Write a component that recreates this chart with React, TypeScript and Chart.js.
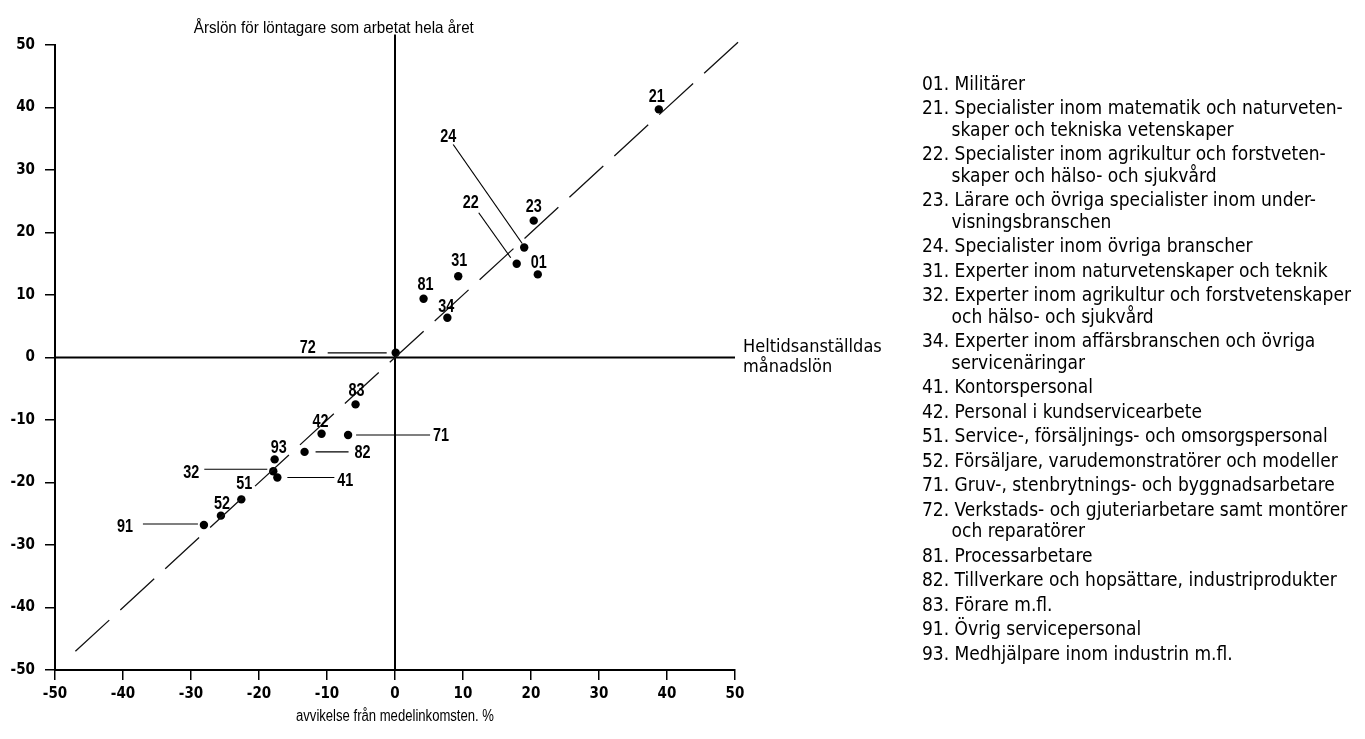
import React, { useEffect, useRef } from "react";
import { Chart, registerables } from "chart.js";

Chart.register(...registerables);

// ---- data ----
const codes = ["01", "21", "22", "23", "24", "31", "32", "34", "41", "42", "51", "52", "71", "72", "81", "82", "83", "91", "93"];
// x: deviation of full-time employees' monthly wage from the average, %
const monthlyDev = [21.0, 38.8, 17.9, 20.4, 19.0, 9.3, -17.9, 7.7, -17.3, -10.8, -22.6, -25.6, -6.9, 0.1, 4.2, -13.3, -5.8, -28.1, -17.7];
// y: deviation of annual earnings (worked whole year) from the average, %
const annualDev = [13.3, 39.7, 15.0, 21.9, 17.6, 13.0, -18.2, 6.35, -19.2, -12.2, -22.7, -25.3, -12.4, 0.75, 9.4, -15.1, -7.5, -26.8, -16.3];

const axisMin = -50;
const axisMax = 50;
const axisStep = 10;
const diagonalEnds = [-47, 51];

const yTitle = "Årslön för löntagare som arbetat hela året";
const xTitle = "avvikelse från medelinkomsten. %";
const rightTitle = ["Heltidsanställdas", "månadslön"];

const legendEntries: string[][] = [
  ["01. Militärer"],
  ["21. Specialister inom matematik och naturveten-", "skaper och tekniska vetenskaper"],
  ["22. Specialister inom agrikultur och forstveten-", "skaper och hälso- och sjukvård"],
  ["23. Lärare och övriga specialister inom under-", "visningsbranschen"],
  ["24. Specialister inom övriga branscher"],
  ["31. Experter inom naturvetenskaper och teknik"],
  ["32. Experter inom agrikultur och forstvetenskaper", "och hälso- och sjukvård"],
  ["34. Experter inom affärsbranschen och övriga", "servicenäringar"],
  ["41. Kontorspersonal"],
  ["42. Personal i kundservicearbete"],
  ["51. Service-, försäljnings- och omsorgspersonal"],
  ["52. Försäljare, varudemonstratörer och modeller"],
  ["71. Gruv-, stenbrytnings- och byggnadsarbetare"],
  ["72. Verkstads- och gjuteriarbetare samt montörer", "och reparatörer"],
  ["81. Processarbetare"],
  ["82. Tillverkare och hopsättare, industriprodukter"],
  ["83. Förare m.fl."],
  ["91. Övrig servicepersonal"],
  ["93. Medhjälpare inom industrin m.fl."],
];

// ---- label layout (pixel offsets from the point) ----
type Place = { dx: number; dy: number; lead?: [number, number, number, number] };
const labelPlace: Record<string, Place> = {
  "01": { dx: 1, dy: -12 },
  "21": { dx: -2, dy: -13 },
  "22": { dx: -46, dy: -62, lead: [-38, -51, -6, -6] },
  "23": { dx: 0, dy: -15 },
  "24": { dx: -76, dy: -111, lead: [-71, -103, -2, -4] },
  "31": { dx: 1, dy: -16 },
  "32": { dx: -82, dy: 1, lead: [-69, -2, -6, -2] },
  "34": { dx: -1, dy: -12 },
  "41": { dx: 68, dy: 3, lead: [10, 0, 57, 0] },
  "42": { dx: -1, dy: -13 },
  "51": { dx: 3, dy: -16 },
  "52": { dx: 1, dy: -13 },
  "71": { dx: 93, dy: 0, lead: [8, 0, 82, 0] },
  "72": { dx: -88, dy: -6, lead: [-68, 0, -9, 0] },
  "81": { dx: 2, dy: -15 },
  "82": { dx: 58, dy: 0, lead: [11, 0, 44, 0] },
  "83": { dx: 1, dy: -14 },
  "91": { dx: -79, dy: 1, lead: [-61, -1, -6, -1] },
  "93": { dx: 4, dy: -12 },
};

const FONT = '"Liberation Sans Narrow", "DejaVu Sans Condensed", "Roboto Condensed", "Arial Narrow", "Liberation Sans", sans-serif';
const SANS = '"Liberation Sans", Arial, sans-serif';

// draw text horizontally condensed so that it imitates a condensed typeface
function drawCondensed(
  ctx: CanvasRenderingContext2D,
  text: string,
  x: number,
  y: number,
  font: string,
  sx: number,
  align: CanvasTextAlign
) {
  ctx.save();
  ctx.font = font;
  ctx.textAlign = align;
  ctx.textBaseline = "middle";
  ctx.translate(x, y);
  ctx.scale(sx, 1);
  ctx.fillText(text, 0, 0);
  ctx.restore();
}

function fitScale(ctx: CanvasRenderingContext2D, text: string, font: string, width: number) {
  ctx.save();
  ctx.font = font;
  const w = ctx.measureText(text).width;
  ctx.restore();
  return w > 0 ? width / w : 1;
}

const textPlugin = {
  id: "textPlugin",
  afterDatasetsDraw(chart: any) {
    const ctx: CanvasRenderingContext2D = chart.ctx;
    const xs = chart.scales.x;
    const ys = chart.scales.y;
    const area = chart.chartArea;
    ctx.save();
    ctx.fillStyle = "#000";
    ctx.strokeStyle = "#000";

    // leader lines + point labels
    const labelFont = `bold 18px ${SANS}`;
    codes.forEach((c, i) => {
      const px = xs.getPixelForValue(monthlyDev[i]);
      const py = ys.getPixelForValue(annualDev[i]);
      const p = labelPlace[c];
      if (!p) return;
      if (p.lead) {
        ctx.lineWidth = 1.2;
        ctx.beginPath();
        ctx.moveTo(px + p.lead[0], py + p.lead[1]);
        ctx.lineTo(px + p.lead[2], py + p.lead[3]);
        ctx.stroke();
      }
      drawCondensed(ctx, c, px + p.dx, py + p.dy + 1, labelFont, 0.8, "center");
    });

    // axis titles
    const tFont = `16.5px ${SANS}`;
    drawCondensed(ctx, yTitle, xs.getPixelForValue(-9), 28, tFont, fitScale(ctx, yTitle, tFont, 280), "center");
    const xFont = `16px ${SANS}`;
    drawCondensed(ctx, xTitle, xs.getPixelForValue(0), 717, xFont, fitScale(ctx, xTitle, xFont, 198), "center");

    ctx.textBaseline = "middle";
    ctx.textAlign = "left";
    ctx.font = `18px ${FONT}`;
    const zeroY = ys.getPixelForValue(0);
    ctx.fillText(rightTitle[0], area.right + 8, zeroY - 10);
    ctx.fillText(rightTitle[1], area.right + 8, zeroY + 10);

    // legend
    ctx.font = `19px ${FONT}`;
    const lx = 922;
    const indent = ctx.measureText("21. ").width - 3;
    let ly = 85;
    legendEntries.forEach((lines, k) => {
      lines.forEach((ln, j) => {
        ctx.fillText(ln, j === 0 ? lx : lx + indent, ly);
        if (j < lines.length - 1) ly += 21.5;
      });
      if (k < legendEntries.length - 1) ly += 24.5;
    });
    ctx.restore();
  },
};

export default function App() {
  const ref = useRef<HTMLCanvasElement | null>(null);
  useEffect(() => {
    document.body.style.margin = "0";
    const canvas = ref.current;
    if (!canvas) return;
    const tickFont = { family: FONT, size: 15, weight: "bold" as const };
    const chart = new Chart(canvas, {
      type: "scatter",
      data: {
        datasets: [
          {
            type: "line",
            data: [
              { x: diagonalEnds[0], y: diagonalEnds[0] },
              { x: diagonalEnds[1], y: diagonalEnds[1] },
            ],
            borderColor: "#111",
            borderWidth: 1.3,
            borderDash: [46, 15],
            pointRadius: 0,
            clip: false,
          } as any,
          {
            type: "line",
            data: [
              { x: 0, y: axisMin },
              { x: 0, y: 51.7 },
            ],
            borderColor: "#000",
            borderWidth: 2,
            pointRadius: 0,
            clip: false,
          } as any,
          {
            type: "line",
            data: [
              { x: axisMin, y: 0 },
              { x: axisMax, y: 0 },
            ],
            borderColor: "#000",
            borderWidth: 2,
            pointRadius: 0,
            clip: false,
          } as any,
          {
            data: codes.map((_, i) => ({ x: monthlyDev[i], y: annualDev[i] })),
            pointRadius: 4.2,
            pointBackgroundColor: "#000",
            pointBorderColor: "#000",
            pointBorderWidth: 0,
            clip: false,
          } as any,
        ],
      },
      options: {
        responsive: false,
        animation: false,
        devicePixelRatio: 1,
        layout: { padding: { left: 0, right: 630, top: 45, bottom: 0 } },
        plugins: { legend: { display: false }, tooltip: { enabled: false } },
        scales: {
          x: {
            type: "linear",
            min: axisMin,
            max: axisMax,
            ticks: { stepSize: axisStep, color: "#000", font: tickFont, padding: 5 },
            grid: { drawOnChartArea: false, drawTicks: true, tickLength: 10, color: "#000", lineWidth: 1.5 },
            border: { display: true, color: "#000", width: 2 },
            afterFit: (s: any) => {
              s.height = 69;
            },
          },
          y: {
            type: "linear",
            min: axisMin,
            max: axisMax,
            ticks: { stepSize: axisStep, color: "#000", font: tickFont, padding: 10 },
            grid: { drawOnChartArea: false, drawTicks: true, tickLength: 10, color: "#000", lineWidth: 1.5 },
            border: { display: true, color: "#000", width: 2 },
            afterFit: (s: any) => {
              s.width = 55;
            },
          },
        },
      } as any,
      plugins: [textPlugin],
    });
    return () => chart.destroy();
  }, []);
  return (
    <div style={{ width: 1365, height: 739, background: "#fff", overflow: "hidden" }}>
      <canvas ref={ref} width={1365} height={739} style={{ display: "block" }} />
    </div>
  );
}
